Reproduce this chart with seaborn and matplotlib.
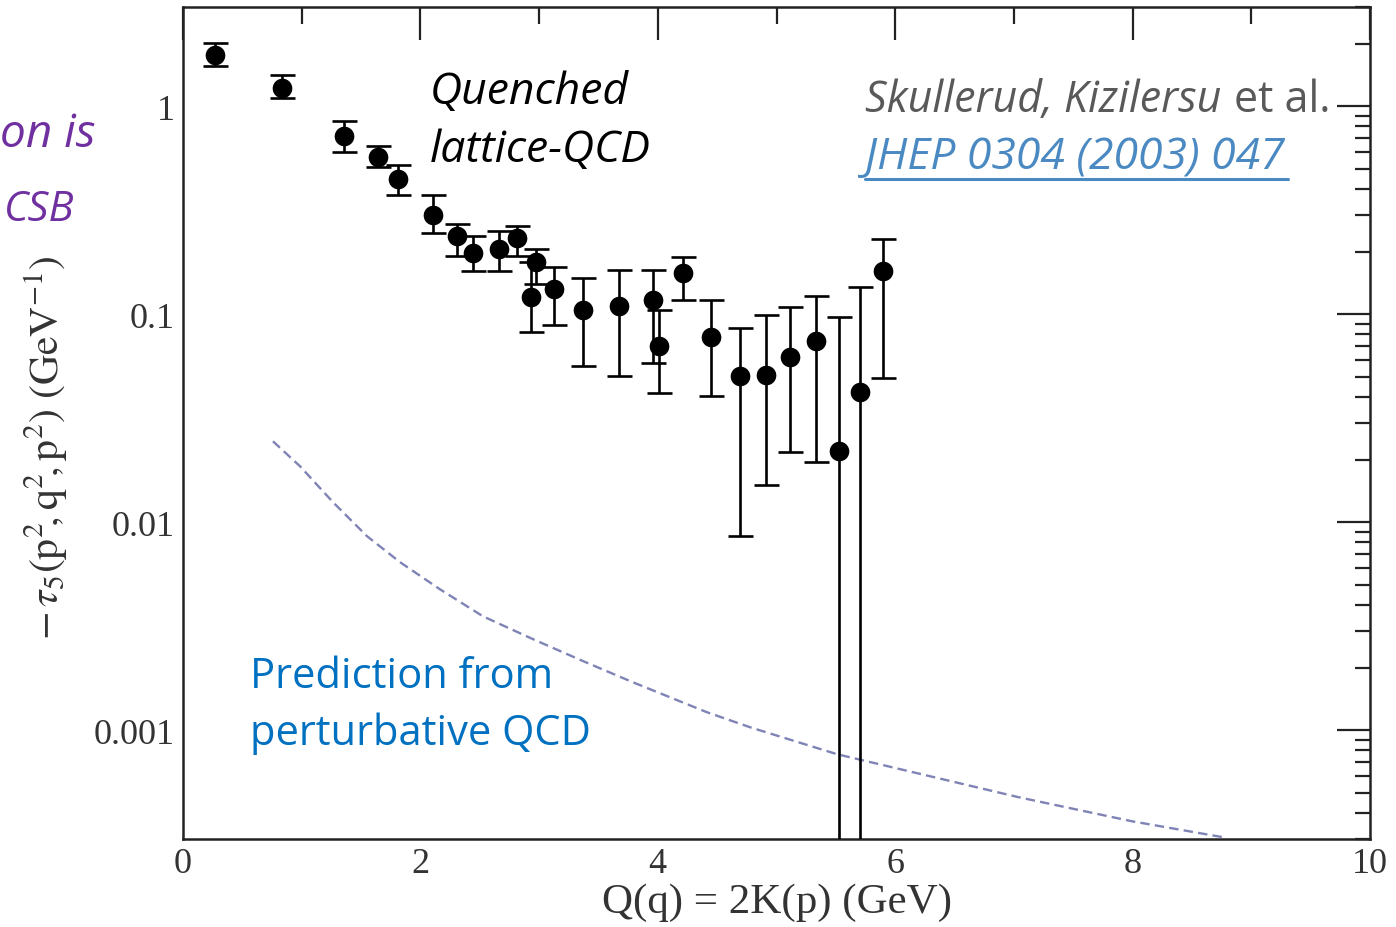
import numpy as np
import pandas as pd
import matplotlib
matplotlib.use("Agg")
import matplotlib.pyplot as plt
import seaborn as sns
from matplotlib.ticker import LogLocator, NullFormatter, FixedLocator

# ---- data ----
q_lattice = [0.27, 0.83, 1.36, 1.64, 1.81, 2.11, 2.31, 2.44, 2.66, 2.81, 2.97, 2.93,
             3.125, 3.37, 3.67, 3.96, 4.01, 4.21, 4.45, 4.69, 4.91, 5.11, 5.33, 5.53, 5.70, 5.90]
tau_lattice = [1.76, 1.22, 0.717, 0.569, 0.446, 0.299, 0.237, 0.196, 0.205, 0.232, 0.178, 0.121,
               0.132, 0.105, 0.109, 0.117, 0.070, 0.157, 0.078, 0.0504, 0.0509, 0.062, 0.0743, 0.0219, 0.0422, 0.161]
tau_upper = [2.01, 1.41, 0.847, 0.642, 0.521, 0.373, 0.273, 0.237, 0.251, 0.265, 0.205, 0.178,
             0.168, 0.150, 0.164, 0.164, 0.105, 0.188, 0.117, 0.0859, 0.0987, 0.108, 0.123, 0.0968, 0.135, 0.229]
tau_lower = [1.56, 1.09, 0.601, 0.509, 0.373, 0.245, 0.190, 0.161, 0.161, 0.190, 0.139, 0.082,
             0.0886, 0.0562, 0.0504, 0.058, 0.0418, 0.117, 0.0404, 0.00862, 0.0151, 0.0217, 0.0194, 1e-6, 1e-6, 0.0493]

q_pert = [0.758, 0.986, 1.264, 1.550, 1.828, 2.165, 2.527, 2.949, 3.370, 3.791,
          4.415, 4.785, 5.510, 6.293, 7.043, 7.995, 8.762]
tau_pert = [0.0245, 0.01858, 0.01248, 0.00857, 0.00643, 0.00476, 0.00353, 0.00274, 0.00215, 0.00170,
            0.00122, 0.00103, 0.000767, 0.000601, 0.000476, 0.000365, 0.000306]

x_major = [0, 2, 4, 6, 8, 10]
x_minor = [1, 3, 5, 7, 9]
y_major = [0.001, 0.01, 0.1, 1]
y_labels = ["0.001", "0.01", "0.1", "1"]

df_lat = pd.DataFrame({"Q": q_lattice, "tau": tau_lattice, "up": tau_upper, "lo": tau_lower})
df_pert = pd.DataFrame({"Q": q_pert, "tau": tau_pert})

sns.set_theme(style="white")
plt.rcParams["font.family"] = ["DejaVu Sans"]
plt.rcParams["mathtext.fontset"] = "stix"

fig = plt.figure(figsize=(13.96, 9.28), dpi=100)
ax = fig.add_axes([183/1396, 1-840/928, (1370-183)/1396, (840-8)/928])
ax.set_yscale("log")

# perturbative curve
sns.lineplot(data=df_pert, x="Q", y="tau", ax=ax, color="#7f83b5",
             linestyle=(0, (4, 2.2)), linewidth=1.7, sort=True)

# error bars
yerr = np.array([df_lat["tau"] - df_lat["lo"], df_lat["up"] - df_lat["tau"]])
ax.errorbar(df_lat["Q"], df_lat["tau"], yerr=yerr, fmt="none", ecolor="black",
            elinewidth=1.9, capsize=9, capthick=1.9, zorder=3)
sns.scatterplot(data=df_lat, x="Q", y="tau", ax=ax, color="black", s=200,
                edgecolor="black", linewidth=0, zorder=4)

ax.set_xlim(0, 10)
ax.set_ylim(3e-4, 3.0)

ax.xaxis.set_major_locator(FixedLocator(x_major))
ax.xaxis.set_minor_locator(FixedLocator(x_minor))
ax.set_xticklabels([str(v) for v in x_major])
ax.yaxis.set_major_locator(FixedLocator(y_major))
ax.set_yticklabels(y_labels)
ax.yaxis.set_minor_locator(LogLocator(base=10, subs=np.arange(2, 10), numticks=20))
ax.yaxis.set_minor_formatter(NullFormatter())

ax.tick_params(axis="both", which="both", direction="in", top=True, right=True,
               colors="#222222", width=1.6)
ax.tick_params(axis="x", which="major", length=24, pad=6)
ax.tick_params(axis="x", which="minor", length=12)
ax.tick_params(axis="y", which="major", length=24, pad=6)
ax.tick_params(axis="y", which="minor", length=11)
for lab in ax.get_xticklabels() + ax.get_yticklabels():
    lab.set_fontfamily("Liberation Serif")
    lab.set_fontsize(26)
    lab.set_color("#333333")
for sp in ax.spines.values():
    sp.set_linewidth(1.8)
    sp.set_color("#222222")

ax.set_xlabel("")
ax.set_ylabel("")
fig.text(777/1396, 1-903/928, "Q(q) = 2K(p) (GeV)", ha="center", va="center",
         fontsize=31, family="Liberation Serif", color="#333333")
fig.text(46/1396, 1-448/928, r"$-\,\tau_5(\mathrm{p}^2\!,\mathrm{q}^2\!,\mathrm{p}^2)\ (\mathrm{GeV}^{-1})$",
         rotation=90, ha="center", va="center", fontsize=30, color="#333333")

# annotations
fig.text(430/1396, 1-93/928, "Quenched", ha="left", va="center", fontsize=32,
         style="italic", family="Open Sans", color="black")
fig.text(430/1396, 1-151/928, "lattice-QCD", ha="left", va="center", fontsize=32,
         style="italic", family="Open Sans", color="black")

fig.text(865/1396, 1-101/928, "Skullerud, Kizilersu", ha="left", va="center", fontsize=31,
         style="italic", family="Open Sans", color="#595959")
fig.text(1330/1396, 1-101/928, "et al.", ha="right", va="center", fontsize=31,
         family="Open Sans", color="#595959")
fig.text(865/1396, 1-158/928, "JHEP 0304 (2003) 047", ha="left", va="center", fontsize=32,
         style="italic", family="Open Sans", color="#4a89c2")
fig.add_artist(plt.Line2D([865/1396, 1288/1396], [1-180/928, 1-180/928],
                          color="#4a89c2", linewidth=2.2, transform=fig.transFigure))

fig.text(250/1396, 1-677/928, "Prediction from", ha="left", va="center", fontsize=30,
         family="Open Sans", color="#0070c0")
fig.text(250/1396, 1-734/928, "perturbative QCD", ha="left", va="center", fontsize=30,
         family="Open Sans", color="#0070c0")

fig.text(95/1396, 1-135/928, "on is", ha="right", va="center", fontsize=33,
         style="italic", family="Open Sans", color="#7030a0")
fig.text(74/1396, 1-210/928, "CSB", ha="right", va="center", fontsize=30,
         style="italic", family="Open Sans", color="#7030a0")

fig.savefig("out.png", dpi=100)
